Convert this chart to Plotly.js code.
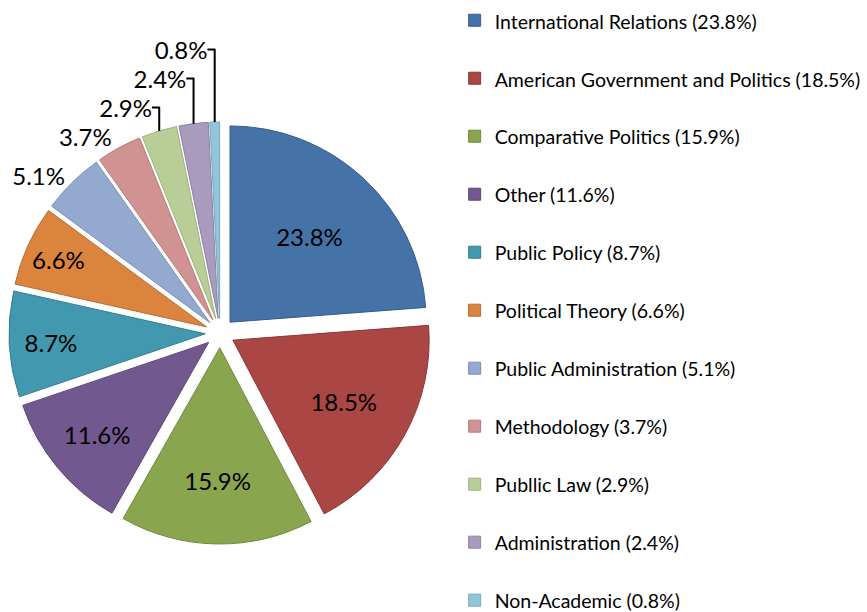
<!DOCTYPE html>
<html>
<head>
<meta charset="utf-8">
<script src="https://cdn.plot.ly/plotly-3.0.1.min.js"></script>
<style>
  html, body { margin: 0; padding: 0; overflow: hidden; background: #fff; }
  #chart { width: 867px; height: 650px; }
</style>
</head>
<body>
<div id="chart"></div>
<script>
// ---- data ----
const categories = [
  "International Relations",
  "American Government and Politics",
  "Comparative Politics",
  "Other",
  "Public Policy",
  "Political Theory",
  "Public Administration",
  "Methodology",
  "Publlic Law",
  "Administration",
  "Non-Academic"
];
const shares = [23.8, 18.5, 15.9, 11.6, 8.7, 6.6, 5.1, 3.7, 2.9, 2.4, 0.8];
const fillColors = ["#4572A7", "#AA4643", "#89A54E", "#71588F", "#4198AF", "#DB843D",
                    "#93A9CF", "#D19392", "#B9CD96", "#A99BBD", "#92C5D9"];
const edgeColors = ["#385D8A", "#8C3836", "#71893F", "#5C4776", "#357D91", "#B66D31",
                    "#7B8FB5", "#B57A79", "#9DB37C", "#8E80A3", "#74AABF"];
const textPositions = ["inside", "inside", "inside", "inside", "inside", "inside",
                       "outside", "outside", "outside", "outside", "outside"];

const legendLabels = categories.map((c, i) =>
  '<span style="font-size:19.5px">' + c + ' (' + shares[i].toFixed(1) + '%)</span><br>\u00a0');

const H = 650;
const FONT = "Lato, 'Open Sans', sans-serif";
const trace = {
  type: "pie",
  labels: legendLabels,
  values: shares,
  sort: false,
  direction: "clockwise",
  rotation: 0,
  pull: 0.075,
  marker: { colors: fillColors, line: { color: edgeColors, width: 1 } },
  texttemplate: "%{value:.1f}%",
  textposition: textPositions,
  insidetextorientation: "horizontal",
  textfont: { family: FONT, size: 24, color: "#000" },
  insidetextfont: { family: FONT, size: 24, color: "#000" },
  outsidetextfont: { family: FONT, size: 24, color: "#000" },
  hoverinfo: "label+percent",
  domain: { x: [0, 0.5075], y: [(H - 544) / H, (H - 122) / H] },
  showlegend: true
};

const layout = {
  width: 867,
  height: H,
  margin: { l: 0, r: 0, t: 0, b: 0 },
  paper_bgcolor: "#fff",
  plot_bgcolor: "#fff",
  font: { family: FONT, color: "#000" },
  showlegend: true,
  legend: {
    x: 0.5244, xanchor: "left",
    y: 1, yanchor: "top",
    valign: "top",
    font: { family: FONT, size: 21.15, color: "#000" },
    bgcolor: "rgba(0,0,0,0)",
    traceorder: "normal"
  }
};

Plotly.newPlot("chart", [trace], layout, { displayModeBar: false, staticPlot: true });
</script>
</body>
</html>
